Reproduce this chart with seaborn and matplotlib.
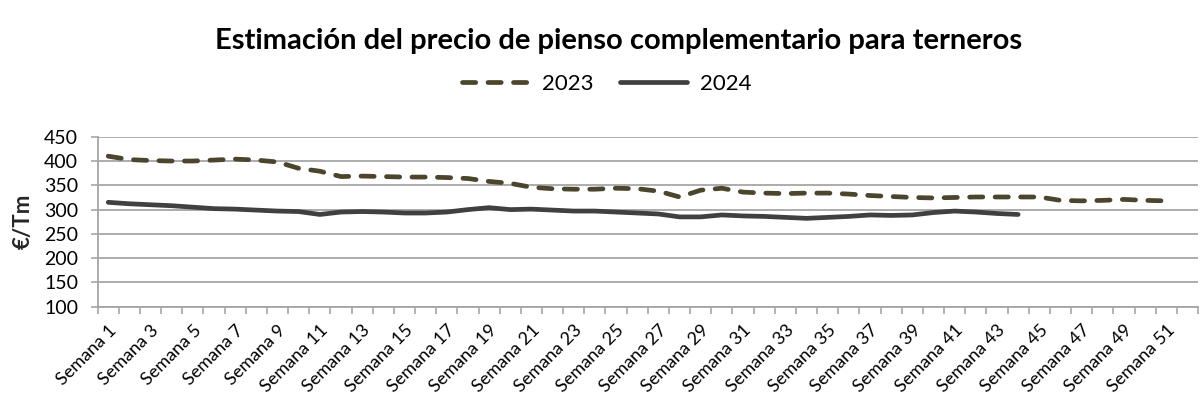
import numpy as np
import pandas as pd
import matplotlib
matplotlib.use("Agg")
import matplotlib.pyplot as plt
from matplotlib.lines import Line2D
from matplotlib.ticker import FixedLocator
import seaborn as sns

# ---------------- data ----------------
semanas = [f"Semana {i}" for i in range(1, 53)]
semana_num = list(range(1, 53))

precio_2023 = [410, 403, 401, 400, 400, 402, 404, 402, 398, 385,
               379, 368, 369, 368, 367, 367, 366, 364, 358, 354,
               346, 343, 342, 342, 344, 343, 338, 326, 340, 344,
               336, 334, 333, 334, 334, 332, 329, 327, 325, 324,
               325, 326, 326, 326, 326, 319, 318, 319, 321, 319,
               318, np.nan]

precio_2024 = [315, 312, 310, 308, 305, 302, 301, 299, 297, 296,
               290, 295, 296, 295, 293, 293, 295, 300, 304, 300,
               301, 299, 297, 297, 295, 293, 291, 285, 285, 289,
               287, 286, 284, 282, 284, 286, 289, 288, 289, 294,
               297, 295, 292, 290]

y_ticks = [100, 150, 200, 250, 300, 350, 400, 450]
title = "Estimación del precio de pienso complementario para terneros"
ylabel = "€/Tm"
series_names = ["2023", "2024"]

# ---------------- style ----------------
sns.set_style("white")
plt.rcParams["font.family"] = ["Lato", "DejaVu Sans"]
plt.rcParams["text.color"] = "black"
plt.rcParams["xtick.color"] = "black"
plt.rcParams["ytick.color"] = "black"

c2023 = "#4a452c"
c2024 = "#404040"
grid_c = "#a6a6a6"
lw = 3.4

df23 = pd.DataFrame({"semana": semana_num, "precio": precio_2023}).dropna()
df24 = pd.DataFrame({"semana": semana_num[:len(precio_2024)], "precio": precio_2024})

fig = plt.figure(figsize=(12.01, 4.01), dpi=100)
ax = fig.add_axes([0.0813, 0.235, 0.9162, 0.424])

sns.lineplot(data=df23, x="semana", y="precio", ax=ax, color=c2023, lw=lw,
             legend=False)
sns.lineplot(data=df24, x="semana", y="precio", ax=ax, color=c2024, lw=lw,
             legend=False)
l23, l24 = ax.get_lines()[:2]
l23.set_dashes([2.8, 2.6])
l23.set_dash_capstyle("round")
l24.set_solid_capstyle("round")
l24.set_solid_joinstyle("round")
l23.set_zorder(3)
l24.set_zorder(3)

ax.set_xlim(0.5, 52.5)
ax.set_ylim(100, 450)
ax.set_yticks(y_ticks)
ax.yaxis.grid(True, color=grid_c, lw=1.3)
ax.set_axisbelow(True)

ax.set_xticks(semana_num[::2])
ax.set_xticklabels(semanas[::2], rotation=45, ha="right", va="top",
                   rotation_mode="anchor", fontsize=13)
ax.xaxis.set_minor_locator(FixedLocator(np.arange(0.5, 53, 1)))
ax.tick_params(axis="x", which="major", length=0, pad=11)
ax.tick_params(axis="x", which="minor", length=5, width=1.2, color=grid_c,
               direction="out", bottom=True)
ax.tick_params(axis="y", which="major", length=5, width=1.2, color=grid_c,
               direction="out", left=True, labelsize=14, pad=9)

for s in ["top", "right"]:
    ax.spines[s].set_visible(False)
for s in ["left", "bottom"]:
    ax.spines[s].set_color(grid_c)
    ax.spines[s].set_linewidth(1.3)

ax.set_xlabel("")
ax.set_ylabel(ylabel, fontsize=16, fontweight="bold")
ax.yaxis.set_label_coords(-0.058, 0.5)

fig.suptitle(title, x=0.515, y=0.93, fontsize=21, fontweight="bold")

handles = [Line2D([0], [0], color=c2023, lw=lw, dashes=[2.8, 2.6],
                  dash_capstyle="round"),
           Line2D([0], [0], color=c2024, lw=lw, solid_capstyle="round")]
fig.legend(handles, series_names, loc="center", bbox_to_anchor=(0.505, 0.79),
           ncol=2, frameon=False, fontsize=16, handlelength=3.0,
           handletextpad=0.6, columnspacing=1.2)

fig.savefig("out.png", dpi=100)
